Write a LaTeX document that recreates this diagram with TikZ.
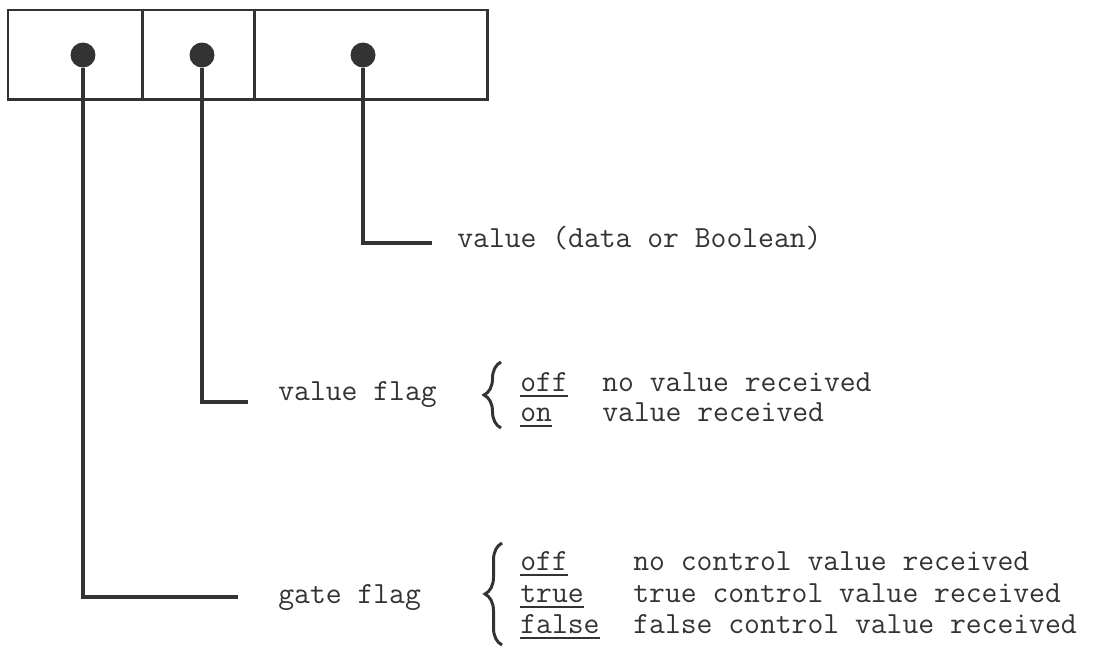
\documentclass[tikz,border=0pt]{standalone}
\usepackage{fontspec}
\usetikzlibrary{positioning,decorations.pathreplacing}
\definecolor{ink}{HTML}{333333}
\newcommand{\flagword}[1]{\setbox0\hbox{#1}\rlap{\rule[-3.5pt]{\wd0}{1.2pt}}\box0}
\tikzset{
  cell/.style={draw=ink,line width=1.7pt,minimum height=1.8cm,inner sep=0pt,outer sep=0pt},
  flagdot/.style={circle,fill=ink,inner sep=0pt,minimum size=0.5cm},
  lead/.style={draw=ink,line width=2pt},
  lbl/.style={font=\ttfamily\fontsize{17.5}{20}\selectfont,text=ink,inner sep=0pt,anchor=base west},
  curly/.style={draw=ink,line width=1.7pt,decorate,decoration={brace,amplitude=0.34cm}}
}

\begin{document}
\begin{tikzpicture}[x=0.02cm,y=-0.02cm]
\useasboundingbox (0,0) rectangle (1102,650);
% the three fields of the cell
\node[cell,minimum width=2.7cm,anchor=north west] (gatecell) at (8,10) {};
\node[cell,minimum width=2.24cm,right=0pt of gatecell] (flagcell) {};
\node[cell,minimum width=4.66cm,right=0pt of flagcell] (valcell) {};
\node[flagdot] (gdot) at (83,55) {};
\node[flagdot] (fdot) at (202,55) {};
\node[flagdot] (vdot) at (363,55) {};
% labels
\node[lbl] (vlabel) at (457,247) {value (data or Boolean)};
\node[lbl] (flabel) at (278,400) {value flag};
\node[lbl] (glabel) at (278,603) {gate flag};
\coordinate (vend) at (432,243);
\coordinate (fend) at (248,402);
\coordinate (gend) at (238,597);
\draw[lead] (vdot) |- (vend);
\draw[lead] (fdot) |- (fend);
\draw[lead] (gdot) |- (gend);
% value flag states
\coordinate (fbot) at (501,428); \coordinate (ftop) at (501,362);
\draw[curly] (fbot) -- (ftop);
\node[lbl] (foff) at (520,391) {\flagword{off}};
\node[lbl] (fon) at (520,421) {\flagword{on}};
\node[lbl] (foffdesc) at (602,391) {no value received};
\node[lbl] (fondesc) at (602,421) {value received};
% gate flag states
\coordinate (gbot) at (502,645); \coordinate (gtop) at (502,543);
\draw[curly] (gbot) -- (gtop);
\node[lbl] (goff) at (520,570) {\flagword{off}};
\node[lbl] (gtrue) at (520,602) {\flagword{true}};
\node[lbl] (gfalse) at (520,633) {\flagword{false}};
\node[lbl] (goffdesc) at (633,570) {no control value received};
\node[lbl] (gtruedesc) at (633,602) {true control value received};
\node[lbl] (gfalsedesc) at (633,633) {false control value received};
\end{tikzpicture}
\end{document}
